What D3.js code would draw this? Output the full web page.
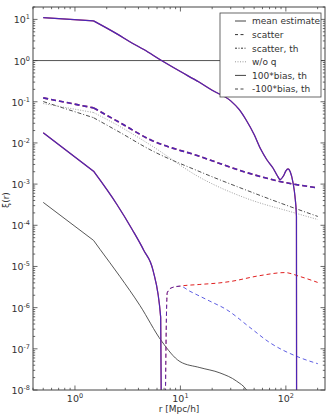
<!DOCTYPE html>
<html>
<head>
<meta charset="utf-8">
<script src="https://cdnjs.cloudflare.com/ajax/libs/d3/7.8.5/d3.min.js"></script>
<style>
  body { margin: 0; background: #fff; }
  text { font-family: "DejaVu Sans", sans-serif; fill: #333; }
</style>
</head>
<body>
<svg id="chart"></svg>
<script>
(function() {

  // horizontal reference at xi = 1
  const rOne = [0.4, 235];
  const one = [1, 1];

  // mean estimate (thin dark line)
  const rMean = [0.5, 1.5, 1.73, 2.67, 4.13, 6.63, 9.9, 15.3, 23.7, 34.1, 42.4, 46];
  const mean = [3.6e-4, 4.3e-5, 2.6e-5, 5.7e-6, 1.13e-6, 1.54e-7, 4.9e-8, 3.5e-8, 2.6e-8, 1.64e-8, 1.0e-8, 7e-9];

  // scatter (thick dashed)
  const rScatter = [0.5, 1.5, 2.67, 5.13, 15.3, 40, 87.7, 201];
  const scatter = [0.124, 0.071, 0.031, 0.0121, 4.7e-3, 2.0e-3, 1.16e-3, 8.1e-4];

  // scatter, th (dash-dot)
  const rScatterTh = [0.5, 1.5, 2.67, 5.13, 15.3, 45.6, 109, 201];
  const scatterTh = [0.101, 0.041, 0.018, 6.9e-3, 2.0e-3, 6.6e-4, 2.86e-4, 1.64e-4];

  // w/o q (dotted)
  const rNoQ = [0.5, 1.5, 2.67, 5.13, 15.3, 45.6, 109, 201];
  const noQ = [0.0905, 0.0547, 0.025, 9.1e-3, 1.45e-3, 4.2e-4, 2.16e-4, 1.38e-4];

  // 100*bias, th : upper curve (goes negative near r = 128)
  const rBiasHi = [0.5, 1.5, 2.5, 3.5, 4.5, 6.5, 10, 15, 20, 30, 36, 42, 50, 58, 66, 76, 83, 88, 95, 100, 105, 110, 117, 122, 126, 128];
  const biasHi = [11.1, 9.2, 4.45, 2.64, 1.85, 1.03, 0.54, 0.30, 0.19, 0.105, 0.065, 0.036, 0.016, 6.9e-3, 3.9e-3, 2.4e-3, 1.6e-3, 1.29e-3, 1.6e-3, 2.1e-3, 2.35e-3, 2.0e-3, 1.07e-3, 5e-4, 1.66e-4, 1e-30];

  // 100*bias, th : lower curve (crosses zero near r = 7)
  const rBiasLo = [0.5, 1.5, 2.5, 3.5, 4.5, 5.5, 6.5, 7.5];
  const biasLo = [1.76e-2, 2.06e-3, 3.2e-4, 7.8e-5, 2.45e-5, 8.0e-6, 5.8e-7, 1e-30];

  // -100*bias, th : two variants (blue / red)
  const rNegBlue = [6.5, 7.5, 8.25, 9.9, 12.3, 19, 27.3, 45.6, 70.5, 136, 201];
  const negBlue = [1e-30, 2.3e-6, 3.04e-6, 3.33e-6, 2.5e-6, 1.44e-6, 9.0e-7, 3.3e-7, 1.41e-7, 6.1e-8, 4.35e-8];
  const rNegRed = [6.5, 7.5, 8.25, 9.9, 15.3, 23.7, 29.5, 56.8, 98, 136, 200];
  const negRed = [1e-30, 2.3e-6, 3.04e-6, 3.33e-6, 3.66e-6, 4.0e-6, 4.3e-6, 6.0e-6, 7.1e-6, 5.7e-6, 4.1e-6];

  const legendLabels = ['mean estimate', 'scatter', 'scatter, th', 'w/o q', '100*bias, th', '-100*bias, th'];
  const xTicks = [1, 10, 100];
  const yTicks = [1e-8, 1e-7, 1e-6, 1e-5, 1e-4, 1e-3, 1e-2, 1e-1, 1, 10];

  const width = 333;
  const height = 416;
  const margin = { left: 33, right: 8, top: 7, bottom: 26 };

  const red = '#e02020';
  const blue = '#2828d8';

  const svg = d3.select('#chart')
    .attr('width', width)
    .attr('height', height);

  const x = d3.scaleLog().domain([0.4, 235]).range([margin.left, width - margin.right]);
  const y = d3.scaleLog().domain([1e-8, 20]).range([height - margin.bottom, margin.top]);

  svg.append('clipPath').attr('id', 'plot-clip')
    .append('rect')
    .attr('x', x.range()[0]).attr('y', y.range()[1])
    .attr('width', x.range()[1] - x.range()[0])
    .attr('height', y.range()[0] - y.range()[1]);

  const plot = svg.append('g').attr('clip-path', 'url(#plot-clip)');

  const straight = d3.line()
    .x(function(d) { return x(d[0]); })
    .y(function(d) { return y(d[1]); });
  const smooth = d3.line()
    .curve(d3.curveMonotoneX)
    .x(function(d) { return x(d[0]); })
    .y(function(d) { return y(d[1]); });

  // first sample step (0.5 -> 1.5) is a straight segment, the rest is dense and smooth
  function pathFor(pts) {
    if (pts[0][0] === 0.5) {
      return straight(pts.slice(0, 2)) + smooth(pts.slice(1));
    }
    return smooth(pts);
  }

  function draw(rs, vs, color, w, dash, opacity) {
    plot.append('path')
      .datum(d3.zip(rs, vs))
      .attr('d', pathFor)
      .attr('fill', 'none')
      .attr('stroke', color)
      .attr('stroke-width', w)
      .attr('stroke-dasharray', dash || null)
      .attr('stroke-opacity', opacity || 1)
      .attr('stroke-linejoin', 'round');
  }

  draw(rOne, one, '#555', 1);
  draw(rMean, mean, '#444', 0.9);
  draw(rScatterTh, scatterTh, '#222', 0.8, '4,2,1,2');
  draw(rNoQ, noQ, '#888', 0.8, '1,1.5');

  // red variants first, blue on top
  draw(rScatter, scatter, red, 1.6, '5,3');
  draw(rBiasHi, biasHi, red, 1.2);
  draw(rBiasLo, biasLo, red, 1.2);
  draw(rNegRed, negRed, red, 1, '4,3');
  draw(rScatter, scatter, blue, 1.6, '5,3', 0.82);
  draw(rBiasHi, biasHi, blue, 1.2, null, 0.82);
  draw(rBiasLo, biasLo, blue, 1.2, null, 0.82);
  draw(rNegBlue, negBlue, blue, 1, '4,3', 0.75);

  // frame
  const x0 = x.range()[0], x1 = x.range()[1], y0 = y.range()[0], y1 = y.range()[1];
  svg.append('rect')
    .attr('x', x0).attr('y', y1)
    .attr('width', x1 - x0).attr('height', y0 - y1)
    .attr('fill', 'none').attr('stroke', '#444').attr('stroke-width', 1);

  // ticks on all four sides, pointing inward
  const ticks = svg.append('g').attr('stroke', '#444').attr('stroke-width', 0.8);
  const xMinor = [];
  [0.1, 1, 10, 100].forEach(function(p) {
    for (let k = 2; k <= 9; k++) if (p * k >= 0.4 && p * k <= 235) xMinor.push(p * k);
  });
  const yMinor = [];
  [1e-8, 1e-7, 1e-6, 1e-5, 1e-4, 1e-3, 1e-2, 1e-1, 1, 10].forEach(function(p) {
    for (let k = 2; k <= 9; k++) if (p * k <= 20) yMinor.push(p * k);
  });

  function vTick(v, len) {
    ticks.append('line').attr('x1', x(v)).attr('x2', x(v)).attr('y1', y0).attr('y2', y0 - len);
    ticks.append('line').attr('x1', x(v)).attr('x2', x(v)).attr('y1', y1).attr('y2', y1 + len);
  }
  function hTick(v, len) {
    ticks.append('line').attr('y1', y(v)).attr('y2', y(v)).attr('x1', x0).attr('x2', x0 + len);
    ticks.append('line').attr('y1', y(v)).attr('y2', y(v)).attr('x1', x1).attr('x2', x1 - len);
  }
  xTicks.forEach(function(v) { vTick(v, 4.5); });
  xMinor.forEach(function(v) { vTick(v, 2.2); });
  yTicks.forEach(function(v) { hTick(v, 4.5); });
  yMinor.forEach(function(v) { hTick(v, 2.2); });

  function exponent(v) { return Math.round(Math.log10(v)); }

  // x tick labels
  xTicks.forEach(function(v) {
    const t = svg.append('text')
      .attr('x', x(v)).attr('y', y0 + 12)
      .attr('text-anchor', 'middle')
      .style('font-size', '9.5px');
    t.append('tspan').text('10');
    t.append('tspan').attr('dy', -4).style('font-size', '6.5px').text(exponent(v));
  });

  // y tick labels
  yTicks.forEach(function(v) {
    const t = svg.append('text')
      .attr('x', x0 - 3).attr('y', y(v) + 4)
      .attr('text-anchor', 'end')
      .style('font-size', '9.5px');
    t.append('tspan').text('10');
    t.append('tspan').attr('dy', -4).style('font-size', '6.5px').text(exponent(v));
  });

  svg.append('text')
    .attr('x', (x0 + x1) / 2).attr('y', height - 4)
    .attr('text-anchor', 'middle')
    .style('font-size', '9px')
    .text('r [Mpc/h]');

  svg.append('text')
    .attr('transform', 'translate(9,' + 200 + ') rotate(-90)')
    .attr('text-anchor', 'middle')
    .style('font-size', '9px')
    .text('ξ(r)');

  // legend
  const legend = svg.append('g').attr('transform', 'translate(220,13)');
  legend.append('rect')
    .attr('width', 101).attr('height', 84)
    .attr('fill', '#fff').attr('stroke', '#444').attr('stroke-width', 0.8);
  const legendStyles = [
    { color: '#444', dash: null },
    { color: '#333', dash: '3,2.5' },
    { color: '#333', dash: '2,1.5,1,1.5' },
    { color: '#999', dash: '1,1.5' },
    { color: '#444', dash: null },
    { color: '#444', dash: '3,2.5' }
  ];
  legendLabels.forEach(function(label, i) {
    const ly = 8 + i * 13.6;
    legend.append('line')
      .attr('x1', 15).attr('x2', 26).attr('y1', ly).attr('y2', ly)
      .attr('stroke', legendStyles[i].color)
      .attr('stroke-width', 1)
      .attr('stroke-dasharray', legendStyles[i].dash);
    legend.append('text')
      .attr('x', 32).attr('y', ly + 3.3)
      .style('font-size', '9px')
      .text(label);
  });
})();
</script>
</body>
</html>
